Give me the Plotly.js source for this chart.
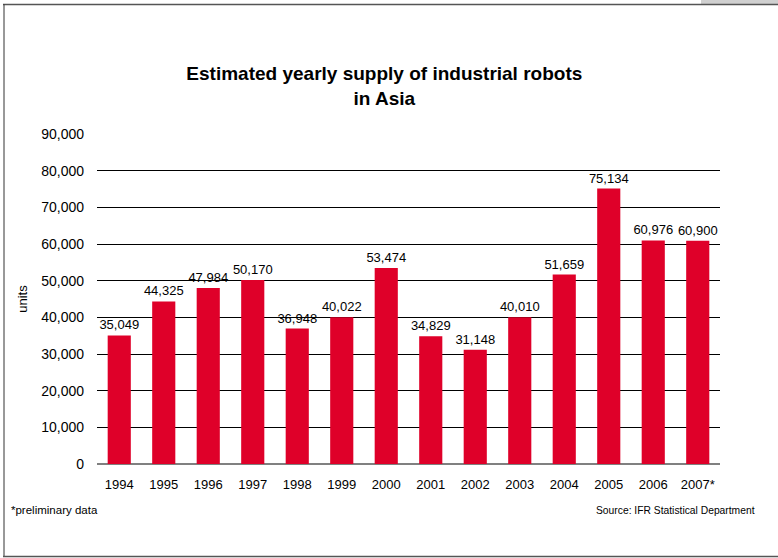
<!DOCTYPE html>
<html><head><meta charset="utf-8">
<script src="https://cdn.plot.ly/plotly-3.0.1.min.js"></script>
<style>html,body{margin:0;padding:0;background:#fff}#c{width:778px;height:558px}</style>
</head><body><div id="c"></div>
<script>
const years = ["1994","1995","1996","1997","1998","1999","2000","2001","2002","2003","2004","2005","2006","2007*"];
const units = [35049,44325,47984,50170,36948,40022,53474,34829,31148,40010,51659,75134,60976,60900];
const yTicks = [0,10000,20000,30000,40000,50000,60000,70000,80000,90000];
const yTickText = ["0","10,000","20,000","30,000","40,000","50,000","60,000","70,000","80,000","90,000"];
const labels = units.map(v => v.toLocaleString('en-US'));

const L = 97, R = 720, T = 134, B = 464;
const px = x => (x - L) / (R - L);
const py = y => (B - y) / (B - T);

const trace = {
  type: 'bar', x: years, y: units, text: labels,
  textposition: 'outside', constraintext: 'none', cliponaxis: false,
  textfont: {family: 'Liberation Sans, Arial, sans-serif', size: 13, color: '#000'},
  marker: {color: '#DF0029'}, hoverinfo: 'none'
};
const layout = {
  width: 778, height: 558,
  margin: {l: L, r: 778 - R, t: T, b: 558 - B},
  paper_bgcolor: '#fff', plot_bgcolor: '#fff',
  font: {family: 'Liberation Sans, Arial, sans-serif', size: 13, color: '#000'},
  showlegend: false, bargap: 0.48,
  title: {text: '<b>Estimated yearly supply of industrial robots<br>in Asia</b>',
    font: {size: 19, color: '#000'}, x: 0.494, xref: 'container', xanchor: 'center',
    y: 1 - 80/558, yref: 'container', yanchor: 'top'},
  xaxis: {type: 'category', showgrid: false, showline: false, ticks: '', zeroline: false,
    tickfont: {size: 13}, ticklabelstandoff: 11},
  yaxis: {range: [0, 90000], tickvals: yTicks, ticktext: yTickText, showgrid: true,
    gridcolor: '#000', gridwidth: 1, zeroline: true, zerolinecolor: '#808080', zerolinewidth: 2,
    ticks: '', ticklabelstandoff: 12, tickfont: {size: 14},
    title: {text: 'units', font: {size: 13}, standoff: 10}},
  annotations: [
    {text: '*preliminary data', xref: 'paper', yref: 'paper', x: px(9), y: py(510),
     xanchor: 'left', yanchor: 'middle', showarrow: false,
     font: {family: 'Liberation Sans Narrow, Arial Narrow, sans-serif', size: 11.5}},
    {text: 'Source: IFR Statistical Department', xref: 'paper', yref: 'paper', x: px(757), y: py(510),
     xanchor: 'right', yanchor: 'middle', showarrow: false,
     font: {family: 'Liberation Sans Narrow, Arial Narrow, sans-serif', size: 10.3}}
  ],
  shapes: [
    {type: 'rect', xref: 'paper', yref: 'paper', x0: px(701), x1: px(780), y0: py(0), y1: py(4), fillcolor: '#D0D0D0', line: {width: 0}, layer: 'below'},
    {type: 'line', xref: 'paper', yref: 'paper', x0: px(3), x1: px(780), y0: py(4.5), y1: py(4.5), line: {color: '#555', width: 1.5}},
    {type: 'line', xref: 'paper', yref: 'paper', x0: px(4), x1: px(4), y0: py(4.5), y1: py(557), line: {color: '#333', width: 1}},
    {type: 'line', xref: 'paper', yref: 'paper', x0: px(3), x1: px(780), y0: py(556.5), y1: py(556.5), line: {color: '#555', width: 1.5}}
  ]
};
Plotly.newPlot('c', [trace], layout, {displayModeBar: false, staticPlot: true});
</script></body></html>
